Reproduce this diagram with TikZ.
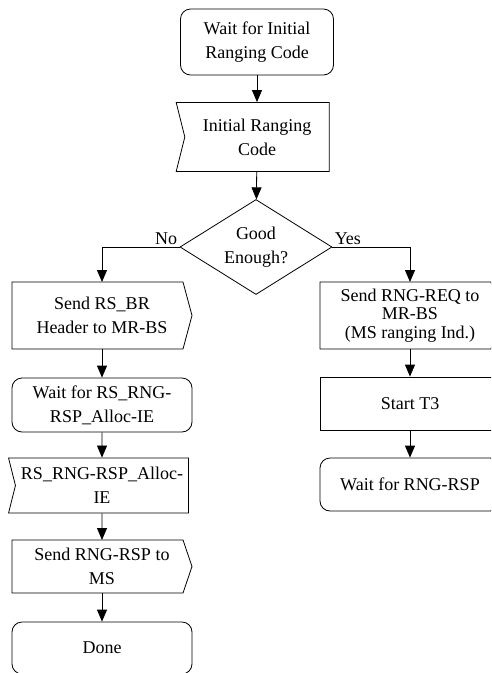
\documentclass[tikz,border=0pt]{standalone}
\usepackage{fontspec}
\setmainfont{Liberation Serif}
\usetikzlibrary{shapes.geometric, shapes.symbols, arrows.meta}

\begin{document}
\begin{tikzpicture}[x=1pt, y=-1pt, line width=0.8pt,
  every node/.style={align=center, font=\fontsize{18}{24}\selectfont, inner sep=0pt},
  box/.style={draw, rectangle, minimum width=180pt},
  waitbox/.style={draw, rectangle, rounded corners=10pt, minimum width=180pt},
  recvbox/.style={draw, signal, signal from=west, signal to=nowhere, signal pointer angle=152, minimum width=180pt},
  sendbox/.style={rectangle, outer sep=0pt, minimum width=180pt},
  arr/.style={-{Triangle[length=12pt, width=10pt]}}]
     \clip (0,0) rectangle (491,673);

     \node[waitbox, minimum width=153pt, minimum height=66pt] (wait) at (257, 42) {Wait for Initial\\Ranging Code};
     \node[recvbox, minimum width=153pt, minimum height=69pt] (code) at (257, 137) {Initial Ranging\\Code};
     \node[diamond, draw, aspect=1.6, minimum width=152pt, minimum height=95pt] (good) at (256, 247) {Good\\Enough?};

     \node[sendbox, minimum height=67pt] (sendbr) at (102, 315.5) {Send RS\_BR\\Header to MR-BS};
     \node[waitbox, minimum height=54pt] (waitalloc) at (102, 405) {Wait for RS\_RNG-\\RSP\_Alloc-IE};
     \node[recvbox, minimum height=55pt] (alloc) at (102, 485.5) {RS\_RNG-RSP\_Alloc-\\IE};
     \node[sendbox, minimum height=53pt] (sendrsp) at (102, 566.5) {Send RNG-RSP to\\MS};
     \node[waitbox, minimum height=52pt] (done) at (102, 648) {Done};

     \node[sendbox, minimum height=67pt, font=\fontsize{18}{18.5}\selectfont] (sendreq) at (410, 315.5) {Send RNG-REQ to\\MR-BS\\(MS ranging Ind.)};
     \node[box, minimum height=53pt] (startt) at (410, 403.5) {Start T3};
     \node[waitbox, minimum height=53pt] (waitrsp) at (410, 484.5) {Wait for RNG-RSP};

     % send outlines
     \draw (sendbr.north west) -- ([xshift=-9pt]sendbr.north east) -- (sendbr.east) -- ([xshift=-9pt]sendbr.south east) -- (sendbr.south west) -- cycle;
     \draw (sendrsp.north west) -- ([xshift=-9pt]sendrsp.north east) -- (sendrsp.east) -- ([xshift=-9pt]sendrsp.south east) -- (sendrsp.south west) -- cycle;
     \draw (sendreq.north west) -- ([xshift=-9pt]sendreq.north east) -- (sendreq.east) -- ([xshift=-9pt]sendreq.south east) -- (sendreq.south west) -- cycle;

     \node[anchor=south east, inner sep=2pt] (no) at (good.west) {No};
     \node[anchor=south west, inner sep=2pt] (yes) at (good.east) {Yes};

     \draw[arr] (wait) -- (code);
     \draw[arr] (code) -- (good);
     \draw[arr] (good.west) -| (sendbr.north);
     \draw[arr] (good.east) -| (sendreq.north);
     \draw[arr] (sendbr) -- (waitalloc);
     \draw[arr] (waitalloc) -- (alloc);
     \draw[arr] (alloc) -- (sendrsp);
     \draw[arr] (sendrsp) -- (done);
     \draw[arr] (sendreq) -- (startt);
     \draw[arr] (startt) -- (waitrsp);
\end{tikzpicture}
\end{document}
